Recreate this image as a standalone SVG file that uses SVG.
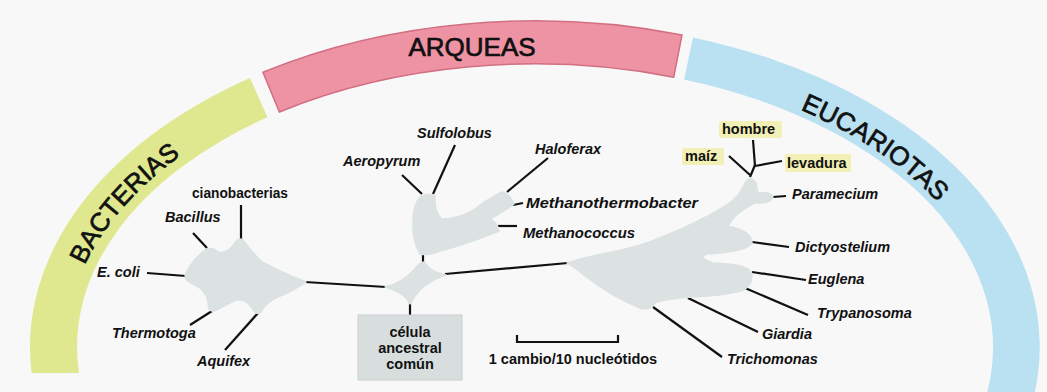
<svg xmlns="http://www.w3.org/2000/svg" width="1047" height="392" viewBox="0 0 1047 392">
<style>
.band-label{font-family:"Liberation Sans",Arial,sans-serif;font-size:26px;fill:#111;stroke:#111;stroke-width:0.7}
.sp{font-family:"Liberation Sans",Arial,sans-serif;font-size:14.5px;font-weight:bold;font-style:italic;fill:#111}
.nm{font-family:"Liberation Sans",Arial,sans-serif;font-size:14.5px;font-weight:bold;fill:#111}
.blob{fill:#dce1e1;stroke:#dce1e1;stroke-width:1.5;stroke-linejoin:round}
.ln{stroke:#111;stroke-width:2.2;fill:none;stroke-linecap:butt}
.hl{fill:#f2f0b4}
</style>
<defs>
<path id="pBact" d="M66.6,331.7 A469,292 0 0 1 239.9,120.1"/>
<path id="pEuc" d="M731,85 A466,289 0 0 1 980,262"/>
</defs>
<rect x="0" y="0" width="1047" height="392" fill="#f8f8f8"/>

<g id="bands">
<path id="band-bacterias" d="M31.6,373 A505,326 0 0 1 250,78 L267.4,117.3 A458,283 0 0 0 79,373 Z" fill="#dfe88e"/>
<path id="band-arqueas" d="M263,72.3 A505,326 0 0 1 682,35 L673.7,77.2 A458,283 0 0 0 279.4,112 Z" fill="#ee93a4" stroke="#d26f82" stroke-width="1.5"/>
<path id="band-eucariotas" d="M693,37.4 A505,326 0 0 1 1033,400 L985,400 A458,283 0 0 0 684.1,79.5 Z" fill="#b9e1f1"/>
<text class="band-label"><textPath href="#pBact" startOffset="50%" text-anchor="middle">BACTERIAS</textPath></text>
<text class="band-label" x="472" y="56" text-anchor="middle">ARQUEAS</text>
<text class="band-label"><textPath href="#pEuc" startOffset="50%" text-anchor="middle">EUCARIOTAS</textPath></text>
</g>

<g id="connectors">
<line class="ln" x1="147" y1="273" x2="186" y2="276"/>
<line class="ln" x1="193" y1="233" x2="207" y2="248"/>
<line class="ln" x1="241" y1="205" x2="241" y2="240"/>
<line class="ln" x1="190" y1="325" x2="212" y2="311"/>
<line class="ln" x1="225" y1="350" x2="258" y2="313"/>
<line class="ln" x1="305" y1="282" x2="386" y2="287"/>
<line class="ln" x1="423" y1="254" x2="423" y2="263"/>
<line class="ln" x1="410" y1="303" x2="410" y2="315"/>
<line class="ln" x1="445" y1="274" x2="568" y2="263"/>
<line class="ln" x1="402" y1="175" x2="422" y2="194"/>
<line class="ln" x1="455" y1="145" x2="433" y2="194"/>
<line class="ln" x1="548" y1="158" x2="507" y2="192"/>
<line class="ln" x1="513" y1="205" x2="523" y2="203"/>
<line class="ln" x1="498" y1="226" x2="517" y2="226"/>
<line class="ln" x1="753" y1="140" x2="755" y2="166"/>
<line class="ln" x1="782" y1="161" x2="755" y2="166"/>
<line class="ln" x1="755" y1="165" x2="750" y2="177"/>
<line class="ln" x1="729" y1="156" x2="750" y2="175"/>
<line class="ln" x1="773" y1="197" x2="786" y2="196"/>
<line class="ln" x1="752" y1="242" x2="789" y2="247"/>
<line class="ln" x1="752" y1="272" x2="806" y2="280"/>
<line class="ln" x1="745" y1="288" x2="808" y2="315"/>
<line class="ln" x1="688" y1="298" x2="758" y2="332"/>
<line class="ln" x1="653" y1="307" x2="722" y2="357"/>
<path class="ln" d="M517,335 V342 H618 V335" stroke-width="1.5"/>
</g>

<g id="bacterias-tree">
<path class="blob" d="M185,276 Q190,262 205,250 Q212,246 218,252 Q228,254 234,244 Q238,237 243,240 Q250,250 262,262 Q285,274 306,282 Q292,292 278,297 Q266,302 261,312 Q256,316 252,308 Q246,298 236,300 Q224,306 214,311 Q208,312 208,302 Q206,290 195,285 Q186,282 185,276 Z"/>
</g>
<g id="arqueas-tree">
<path class="blob" d="M420,197 Q428,192 435,196 Q434,212 442,219 Q465,218 480,205 Q492,197 502,192 Q509,193 514,204 Q503,212 490,219 Q498,223 499,231 Q470,243 440,251 Q428,256 420,254 Q412,240 413,222 Q413,205 420,197 Z"/>
</g>
<g id="center-node">
<path class="blob" d="M385,287 Q402,283 414,270 Q420,262 424,262 Q430,272 446,275 Q430,280 420,290 Q413,298 410,304 Q404,292 385,287 Z"/>
</g>
<g id="eucariotas-tree">
<path class="blob" d="M567,263 Q590,256 607,253 Q640,247 662,237 Q700,222 727,205 Q740,196 745,183 Q750,175 756,183 Q757,189 758,193 Q770,191 773,197 Q770,204 755,203 Q735,212 728,226 Q752,231 752,243 Q746,252 706,254 Q698,258 713,263 Q752,264 752,275 Q752,287 741,291 Q720,296 692,297 Q664,299 655,303 Q650,311 640,308 Q612,297 585,276 Q575,267 567,263 Z"/>
</g>

<g id="ancestor">
<rect x="358" y="315" width="104" height="65" fill="#d8dede" stroke="#c9d0d0" stroke-width="1"/>
<text class="nm" x="410" y="337" text-anchor="middle">célula</text>
<text class="nm" x="410" y="353" text-anchor="middle">ancestral</text>
<text class="nm" x="410" y="369" text-anchor="middle">común</text>
</g>

<g id="labels-bacterias">
<text class="nm" x="192" y="198" textLength="96" lengthAdjust="spacingAndGlyphs">cianobacterias</text>
<text class="sp" x="165" y="222">Bacillus</text>
<text class="sp" x="97" y="277">E. coli</text>
<text class="sp" x="112" y="338">Thermotoga</text>
<text class="sp" x="197" y="366">Aquifex</text>
</g>
<g id="labels-arqueas">
<text class="sp" x="417" y="138">Sulfolobus</text>
<text class="sp" x="343" y="166">Aeropyrum</text>
<text class="sp" x="535" y="154">Haloferax</text>
<text class="sp" x="526" y="208" textLength="172" lengthAdjust="spacingAndGlyphs">Methanothermobacter</text>
<text class="sp" x="523" y="238" textLength="112" lengthAdjust="spacingAndGlyphs">Methanococcus</text>
</g>
<g id="labels-eucariotas">
<rect class="hl" x="719" y="121" width="63" height="17" rx="2"/>
<rect class="hl" x="682" y="148" width="42" height="17" rx="2"/>
<rect class="hl" x="785" y="154" width="66" height="18" rx="2"/>
<text class="nm" x="722" y="134">hombre</text>
<text class="nm" x="685" y="161">maíz</text>
<text class="nm" x="787" y="168">levadura</text>
<text class="sp" x="792" y="199">Paramecium</text>
<text class="sp" x="795" y="252">Dictyostelium</text>
<text class="sp" x="808" y="284">Euglena</text>
<text class="sp" x="817" y="318">Trypanosoma</text>
<text class="sp" x="762" y="339">Giardia</text>
<text class="sp" x="727" y="364">Trichomonas</text>
</g>
<g id="scale">
<text class="nm" x="573" y="364" text-anchor="middle">1 cambio/10 nucleótidos</text>
</g>
</svg>
